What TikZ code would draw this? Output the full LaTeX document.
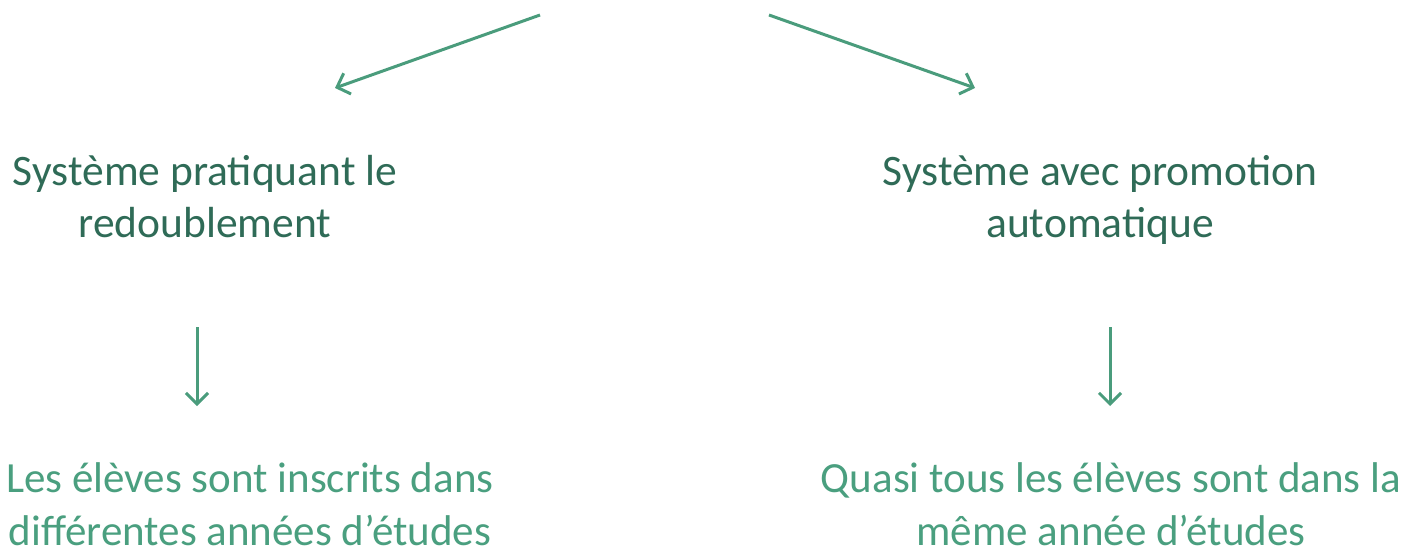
\documentclass[tikz,border=0pt]{standalone}
\usepackage{fontspec}
\setmainfont{Carlito}
\usetikzlibrary{arrows.meta}
\definecolor{arrowgreen}{HTML}{4A9C7C}
\definecolor{darkgreen}{HTML}{2F6B57}
\definecolor{lightgreen}{HTML}{4A9F7F}
\tikzset{
  conn/.style={draw=arrowgreen, line width=3pt, -{Straight Barb[length=11pt,width=22pt,line width=3pt]}},
  upper/.style={align=center, text=darkgreen, font=\fontsize{43.5}{52}\selectfont, inner sep=0pt, anchor=base},
  lower/.style={align=center, text=lightgreen, font=\fontsize{43}{53}\selectfont, inner sep=0pt, anchor=base},
}
\begin{document}
\begin{tikzpicture}[x=1pt,y=-1pt]
\useasboundingbox (0,0) rectangle (1406,550);
\coordinate (s1) at (540,15);
\coordinate (e1) at (335,88);
\coordinate (s2) at (769,15);
\coordinate (e2) at (975,88);
\node[upper] (sysA) at (205,237) {Système pratiquant le\\redoublement};
\node[upper] (sysB) at (1100,237) {Système avec promotion\\automatique};
\node[lower] (resA) at (250,545) {Les élèves sont inscrits dans\\différentes années d’études};
\node[lower] (resB) at (1111,545) {Quasi tous les élèves sont dans la\\même année d’études};
\coordinate (d1s) at (197,327);
\coordinate (d1e) at (197,406);
\coordinate (d2s) at (1110,327);
\coordinate (d2e) at (1110,406);
\draw[conn] (s1) -- (e1);
\draw[conn] (s2) -- (e2);
\draw[conn] (d1s) -- (d1e);
\draw[conn] (d2s) -- (d2e);
\end{tikzpicture}
\end{document}
